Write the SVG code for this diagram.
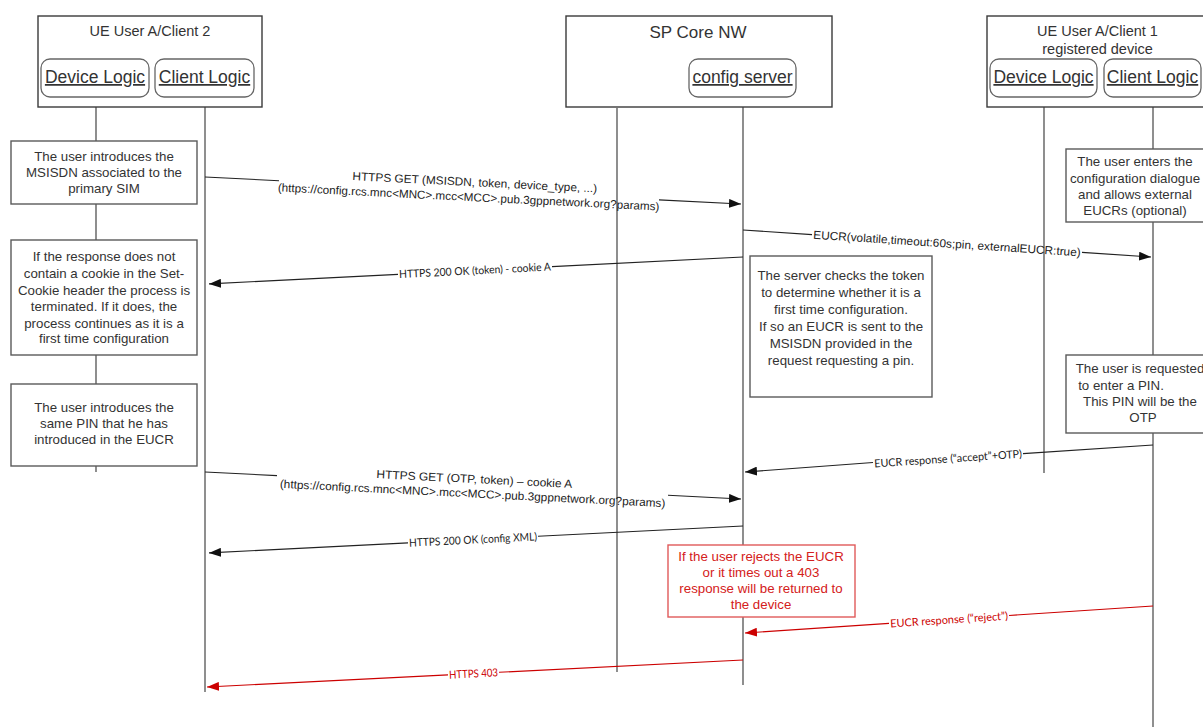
<svg xmlns="http://www.w3.org/2000/svg" width="1203" height="727" viewBox="0 0 1203 727">
<defs>
<style>
.hdr{fill:#fff;stroke:#3a3a3a;stroke-width:1.4}
.comp{fill:#fff;stroke:#666;stroke-width:1.3}
.note{fill:#fff;stroke:#5a5a5a;stroke-width:1.4}
.rnote{fill:#fff;stroke:#e05a5a;stroke-width:1.4}
.life{stroke:#444;stroke-width:1.2;fill:none}
.lifeg{stroke:#6a6a6a;stroke-width:1.5;fill:none}
.msg{stroke:#222;stroke-width:1.1;fill:none}
.rmsg{stroke:#cc0000;stroke-width:1.1;fill:none}
.t{font-family:"Liberation Sans",Arial,sans-serif;fill:#333;text-anchor:middle}
.title{font-size:14.5px}
.big{font-size:17.5px;text-decoration:underline}
.bt{font-size:13.3px}
.rt{font-size:13.3px;fill:#d42020}
.lbl{font-family:"Liberation Sans",Arial,sans-serif;font-size:11.6px;fill:#222;text-anchor:middle;text-rendering:geometricPrecision}
.cl{font-family:Lato,"Liberation Sans",sans-serif;font-size:11px;fill:#222;text-anchor:middle;text-rendering:geometricPrecision}
.rcl{font-family:Lato,"Liberation Sans",sans-serif;font-size:11px;fill:#cc0000;text-anchor:middle;text-rendering:geometricPrecision}
</style>
<marker id="ah" markerUnits="userSpaceOnUse" markerWidth="13" markerHeight="9" refX="12" refY="4.5" orient="auto"><path d="M0,0 L12,4.5 L0,9 z" fill="#111"/></marker>
<marker id="ahr" markerUnits="userSpaceOnUse" markerWidth="13" markerHeight="9" refX="12" refY="4.5" orient="auto"><path d="M0,0 L12,4.5 L0,9 z" fill="#cc0000"/></marker>
</defs>
<rect width="1203" height="727" fill="#fff"/>

<g id="lifelines">
<line class="life" x1="96" y1="97" x2="96" y2="472"/>
<line class="lifeg" x1="205" y1="97" x2="205" y2="692"/>
<line class="life" x1="617" y1="108" x2="617" y2="672"/>
<line class="life" x1="743" y1="97" x2="743" y2="685"/>
<line class="life" x1="1044" y1="97" x2="1044" y2="473"/>
<line class="lifeg" x1="1153" y1="97" x2="1153" y2="727"/>
</g>

<g id="ue-client2">
<rect class="hdr" x="38" y="16" width="224" height="91"/>
<text class="t title" x="150" y="36">UE User A/Client 2</text>
<g id="device-logic-2"><rect class="comp" x="41" y="59" width="108" height="38" rx="9"/><text class="t big" x="95" y="83">Device Logic</text></g>
<g id="client-logic-2"><rect class="comp" x="155" y="59" width="99" height="38" rx="9"/><text class="t big" x="204.5" y="83">Client Logic</text></g>
</g>

<g id="sp-core">
<rect class="hdr" x="566" y="16" width="266" height="91"/>
<text class="t" style="font-size:17px" x="698" y="38">SP Core NW</text>
<g id="config-server"><rect class="comp" x="689" y="59" width="107" height="38" rx="9"/><text class="t big" x="742.5" y="83">config server</text></g>
</g>

<g id="ue-client1">
<rect class="hdr" x="987" y="16" width="230" height="91"/>
<text class="t title" x="1097.5" y="36">UE User A/Client 1</text>
<text class="t title" x="1097.5" y="54">registered device</text>
<g id="device-logic-1"><rect class="comp" x="990" y="59" width="107" height="38" rx="9"/><text class="t big" x="1043.5" y="83">Device Logic</text></g>
<g id="client-logic-1"><rect class="comp" x="1104" y="59" width="97" height="38" rx="9"/><text class="t big" x="1152.5" y="83">Client Logic</text></g>
</g>

<g id="note-msisdn">
<rect class="note" x="11" y="141" width="186" height="63"/>
<text class="t bt" x="104" y="161">The user introduces the</text>
<text class="t bt" x="104" y="177">MSISDN associated to the</text>
<text class="t bt" x="104" y="193">primary SIM</text>
</g>

<g id="note-cookie">
<rect class="note" x="11" y="240" width="186" height="115"/>
<text class="t bt" x="104" y="261">If the response does not</text>
<text class="t bt" x="104" y="278">contain a cookie in the Set-</text>
<text class="t bt" x="104" y="294.5">Cookie header the process is</text>
<text class="t bt" x="104" y="311">terminated. If it does, the</text>
<text class="t bt" x="104" y="327.5">process continues as it is a</text>
<text class="t bt" x="104" y="343">first time configuration</text>
</g>

<g id="note-pin">
<rect class="note" x="11" y="384" width="186" height="82"/>
<text class="t bt" x="104" y="411.5">The user introduces the</text>
<text class="t bt" x="104" y="427.5">same PIN that he has</text>
<text class="t bt" x="104" y="444">introduced in the EUCR</text>
</g>

<g id="note-server">
<rect class="note" x="750" y="256" width="182" height="141"/>
<text class="t bt" x="841" y="279.5">The server checks the token</text>
<text class="t bt" x="841" y="297">to determine whether it is a</text>
<text class="t bt" x="841" y="314">first time configuration.</text>
<text class="t bt" x="841" y="331">If so an EUCR is sent to the</text>
<text class="t bt" x="841" y="348">MSISDN provided in the</text>
<text class="t bt" x="841" y="364.5">request requesting a pin.</text>
</g>

<g id="note-config-dialogue">
<rect class="note" x="1066" y="149" width="140" height="73"/>
<text class="t bt" x="1135" y="166">The user enters the</text>
<text class="t bt" x="1135" y="182.5">configuration dialogue</text>
<text class="t bt" x="1135" y="198.5">and allows external</text>
<text class="t bt" x="1135" y="214.5">EUCRs (optional)</text>
</g>

<g id="note-enter-pin">
<rect class="note" x="1066" y="355" width="150" height="78"/>
<text class="t bt" x="1140" y="373">The user is requested</text>
<text class="t bt" x="1121" y="389.5">to enter a PIN.</text>
<text class="t bt" x="1140" y="405.5">This PIN will be the</text>
<text class="t bt" x="1143" y="422">OTP</text>
</g>

<g id="note-reject">
<rect class="rnote" x="668" y="545" width="187" height="72"/>
<text class="t rt" x="761" y="560.5">If the user rejects the EUCR</text>
<text class="t rt" x="761" y="577">or it times out a 403</text>
<text class="t rt" x="761" y="593">response will be returned to</text>
<text class="t rt" x="761" y="609">the device</text>
</g>

<g id="connectors">
<line class="msg" x1="205" y1="177" x2="279" y2="180.7"/>
<line class="msg" x1="659" y1="199.9" x2="741" y2="204" marker-end="url(#ah)"/>
<g transform="rotate(2.884 469 190.3)">
<text class="lbl" x="474.5" y="186" textLength="245" lengthAdjust="spacingAndGlyphs">HTTPS GET (MSISDN, token, device_type, ...)</text>
<text class="lbl" x="469" y="201" textLength="382" lengthAdjust="spacingAndGlyphs">(https://config.rcs.mnc&lt;MNC&gt;.mcc&lt;MCC&gt;.pub.3gppnetwork.org?params)</text>
</g>
<line class="msg" x1="743" y1="230" x2="812" y2="234.6"/>
<line class="msg" x1="1082" y1="252.4" x2="1151" y2="257" marker-end="url(#ah)"/>
<text class="lbl" x="947" y="247.5" transform="rotate(3.786 947 243.5)" textLength="268" lengthAdjust="spacingAndGlyphs">EUCR(volatile,timeout:60s;pin, externalEUCR:true)</text>
<line class="msg" x1="743" y1="257" x2="552" y2="266.6"/>
<line class="msg" x1="398" y1="274.4" x2="209" y2="283.9" marker-end="url(#ah)"/>
<text class="cl" x="475" y="274.3" transform="rotate(-2.884 475 270.5)" textLength="152" lengthAdjust="spacingAndGlyphs">HTTPS 200 OK (token) - cookie A</text>
<line class="msg" x1="1153" y1="445" x2="1023" y2="453.6"/>
<line class="msg" x1="873" y1="462.5" x2="745" y2="472" marker-end="url(#ah)"/>
<text class="cl" x="948" y="462.5" transform="rotate(-3.786 948 458.6)" textLength="148" lengthAdjust="spacingAndGlyphs">EUCR response (“accept”+OTP)</text>
<line class="msg" x1="205" y1="472" x2="277" y2="475.6"/>
<line class="msg" x1="668" y1="495.3" x2="741" y2="499" marker-end="url(#ah)"/>
<g transform="rotate(2.884 473 485.5)">
<text class="lbl" x="474" y="483" textLength="196" lengthAdjust="spacingAndGlyphs">HTTPS GET (OTP, token) – cookie A</text>
<text class="lbl" x="473" y="497.5" textLength="386" lengthAdjust="spacingAndGlyphs">(https://config.rcs.mnc&lt;MNC&gt;.mcc&lt;MCC&gt;.pub.3gppnetwork.org?params)</text>
</g>
<line class="msg" x1="743" y1="526" x2="538" y2="536.3"/>
<line class="msg" x1="408" y1="542.9" x2="209" y2="552.9" marker-end="url(#ah)"/>
<text class="cl" x="473" y="543.5" transform="rotate(-2.884 473 539.6)" textLength="128" lengthAdjust="spacingAndGlyphs">HTTPS 200 OK (config XML)</text>
<line class="rmsg" x1="1153" y1="606" x2="1009" y2="615.5"/>
<line class="rmsg" x1="889" y1="623.4" x2="745" y2="633" marker-end="url(#ahr)"/>
<text class="rcl" x="949" y="623.5" transform="rotate(-3.786 949 619.5)" textLength="118" lengthAdjust="spacingAndGlyphs">EUCR response (“reject”)</text>
<line class="rmsg" x1="743" y1="660" x2="499" y2="672.3"/>
<line class="rmsg" x1="448" y1="674.9" x2="207" y2="687" marker-end="url(#ahr)"/>
<text class="rcl" x="473.5" y="677.5" transform="rotate(-2.884 473.5 673.6)" textLength="49" lengthAdjust="spacingAndGlyphs">HTTPS 403</text>
</g>
</svg>
